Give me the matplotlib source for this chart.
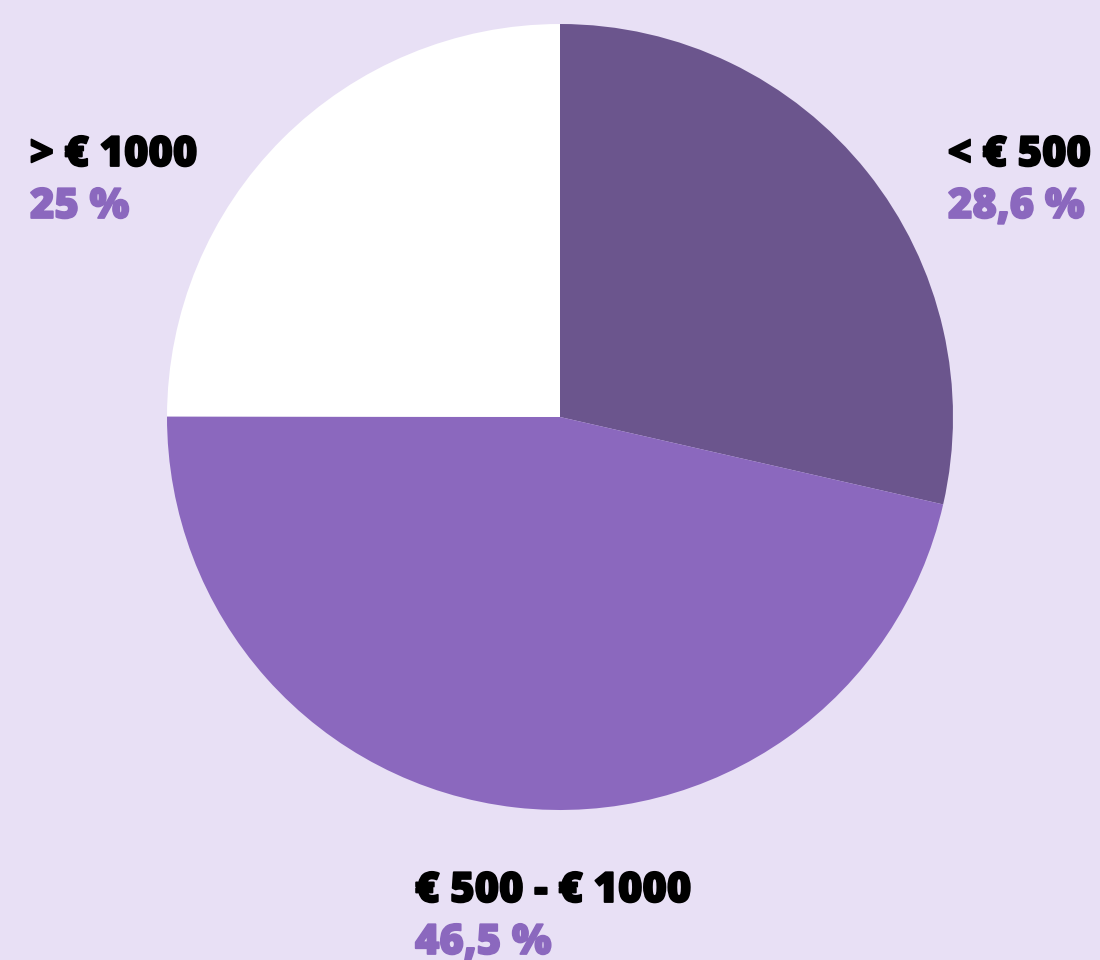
import matplotlib.pyplot as plt
import matplotlib.patheffects as pe

# slice data, clockwise from 12 o'clock
labels = ["< € 500", "€ 500 - € 1000", "> € 1000"]
shares = [28.6, 46.5, 25.0]
share_text = ["28,6 %", "46,5 %", "25 %"]
colors = ["#6B558D", "#8B68BE", "#FFFFFF"]

BG = "#E8E0F5"
PCT_COLOR = "#8B68BE"

fig = plt.figure(figsize=(11, 9.6), dpi=100, facecolor=BG)
ax = fig.add_axes([0, 0, 1, 1])
ax.set_facecolor(BG)

# pie in pixel coordinates (y measured from bottom)
ax.pie(shares, colors=colors, startangle=90, counterclock=False,
       center=(560, 960 - 417), radius=393, frame=True,
       wedgeprops={"linewidth": 0})
ax.set_xlim(0, 1100)
ax.set_ylim(0, 960)
ax.axis("off")

# label anchor: (left x, baseline of label line from top)
label_pos = [(948, 166), (415, 902), (30, 166)]
font = dict(family=["Open Sans", "DejaVu Sans"], fontsize=30, fontweight=800)
for lab, pct, (x, base) in zip(labels, share_text, label_pos):
    ax.text(x, 960 - base, lab, color="black", ha="left", va="baseline",
            path_effects=[pe.withStroke(linewidth=1.3, foreground="black")], **font)
    ax.text(x, 960 - (base + 52), pct, color=PCT_COLOR, ha="left", va="baseline",
            path_effects=[pe.withStroke(linewidth=1.3, foreground=PCT_COLOR)], **font)

fig.savefig("out.png", dpi=100, facecolor=BG)
